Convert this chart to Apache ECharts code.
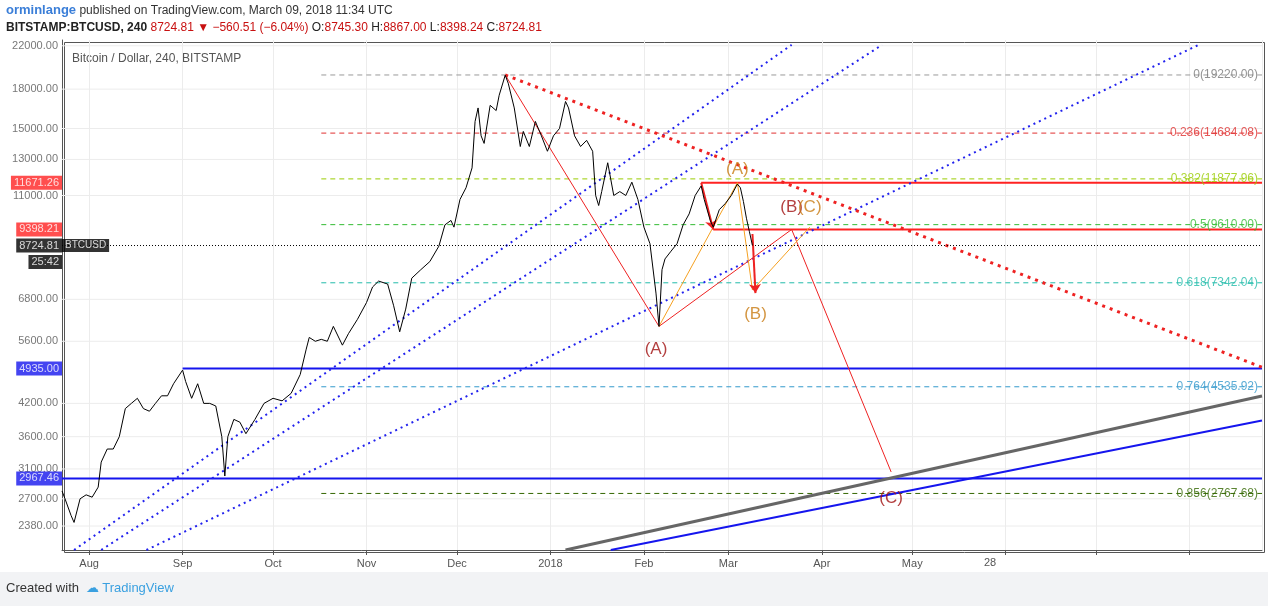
<!DOCTYPE html>
<html><head><meta charset="utf-8">
<script src="https://cdn.jsdelivr.net/npm/echarts@6/dist/echarts.min.js"></script>
<style>html,body{margin:0;padding:0;background:#fff}#c{width:1268px;height:606px}</style>
</head><body><div id="c"></div>
<script>
const priceDates = ['2017-07-23','2017-07-24','2017-07-26','2017-07-27','2017-07-29','2017-07-31','2017-08-02','2017-08-04','2017-08-05','2017-08-07','2017-08-09','2017-08-11','2017-08-13','2017-08-15','2017-08-17','2017-08-19','2017-08-21','2017-08-23','2017-08-25','2017-08-27','2017-08-29','2017-09-01','2017-09-02','2017-09-04','2017-09-06','2017-09-08','2017-09-10','2017-09-12','2017-09-14','2017-09-15','2017-09-16','2017-09-18','2017-09-20','2017-09-22','2017-09-25','2017-09-28','2017-10-01','2017-10-04','2017-10-07','2017-10-10','2017-10-12','2017-10-13','2017-10-15','2017-10-17','2017-10-19','2017-10-21','2017-10-24','2017-10-26','2017-10-29','2017-11-01','2017-11-03','2017-11-05','2017-11-08','2017-11-10','2017-11-12','2017-11-14','2017-11-16','2017-11-19','2017-11-22','2017-11-25','2017-11-27','2017-11-29','2017-11-30','2017-12-02','2017-12-04','2017-12-06','2017-12-07','2017-12-08','2017-12-09','2017-12-10','2017-12-12','2017-12-14','2017-12-15','2017-12-17','2017-12-18','2017-12-20','2017-12-22','2017-12-23','2017-12-25','2017-12-27','2017-12-29','2017-12-31','2018-01-02','2018-01-04','2018-01-06','2018-01-07','2018-01-09','2018-01-11','2018-01-13','2018-01-15','2018-01-16','2018-01-17','2018-01-18','2018-01-20','2018-01-22','2018-01-24','2018-01-26','2018-01-28','2018-01-30','2018-02-01','2018-02-03','2018-02-05','2018-02-06','2018-02-07','2018-02-08','2018-02-10','2018-02-12','2018-02-14','2018-02-16','2018-02-18','2018-02-20','2018-02-21','2018-02-23','2018-02-24','2018-02-26','2018-02-28','2018-03-02','2018-03-04','2018-03-05','2018-03-06','2018-03-07','2018-03-08','2018-03-09'];
const priceValues = [2800,2700,2500,2420,2700,2750,2720,2850,3200,3400,3400,3600,4100,4200,4300,4100,4050,4200,4350,4350,4600,4900,4650,4300,4600,4200,4200,4150,3600,3000,3600,3900,3850,3650,3900,4200,4300,4250,4400,4800,5400,5700,5600,5650,5600,6000,5500,5800,6200,6700,7200,7400,7300,6600,5850,6500,7500,7800,8100,8700,9600,9800,9500,10800,11400,12500,15500,16500,14500,14000,16700,16300,17500,19200,18500,16500,13800,14800,13800,15500,14500,13500,14500,15000,17000,16500,14500,13800,14200,13500,11000,10500,11200,12800,11000,11200,11000,11700,10800,9500,8800,7000,6000,7800,8200,8500,8800,9600,10100,11000,11500,10800,9800,9500,10300,10600,11000,11600,11400,10700,9900,9300,8724.81];
const yTicks = [22000,18000,15000,13000,11000,6800,5600,4200,3600,3100,2700,2380];
const fibValues = [19220,14684.08,11877.96,9610,7342.04,4535.92,2767.68];
const fibLabels = ['0(19220.00)','0.236(14684.08)','0.382(11877.96)','0.5(9610.00)','0.618(7342.04)','0.764(4535.92)','0.856(2767.68)'];
const fibColors = ['#9a9a9a','#e03030','#99cc00','#33bb33','#22bbaa','#3399cc','#336600'];
const badgeValues = [11671.26,9398.21,8724.81,8080,4935,2967.46];
const badgeTexts = ['11671.26','9398.21','8724.81','25:42','4935.00','2967.46'];
const badgeColors = ['#ff2222','#ff2222','#000','#000','#1515ee','#1515ee'];
const blueChannels = [[['2017-07-27',2130],['2018-03-22',22100]],[['2017-08-05',2130],['2018-04-21',22100]],[['2017-08-20',2130],['2018-08-04',22100]]];
const redTrend = [['2017-12-17',19220],['2018-08-25',4965]];
const grayLine = [['2018-01-06',2130],['2018-08-25',4345]];
const blueLine = [['2018-01-21',2130],['2018-08-25',3880]];
const redWave = [['2017-12-17',19220],['2018-02-06',6000],['2018-03-22',9398],['2018-04-24',3057]];
const orangeWave = [['2018-02-06',6000],['2018-03-04',11671],['2018-03-09',7100],['2018-03-28',9500]];
const XMIN='2017-07-23', XMAX='2018-08-25', FIBSTART='2017-10-17';

const chart = echarts.init(document.getElementById('c'));
const font = 'Liberation Sans';
function ln(data,color,width,type,z){return {type:'line',data,symbol:'none',silent:true,lineStyle:{color,width,type},z:z||3};}
const series = [];
series.push({type:'line',data:priceDates.map((d,i)=>[d,priceValues[i]]),symbol:'none',lineStyle:{color:'#000',width:1},z:5});
series.push(ln([[XMIN,8724.81],[XMAX,8724.81]],'#000',1,[1,2],4));
yTicks.forEach(v=>series.push(ln([[XMIN,v],[XMAX,v]],'#ececec',1,'solid',1)));
series.push({type:'scatter',data:yTicks.map(v=>[XMIN,v]),symbolSize:0,silent:true,
  label:{show:true,position:'left',distance:4,formatter:p=>p.value[1].toFixed(2),color:'#555',fontSize:11,fontFamily:font},z:1});
fibValues.forEach((v,i)=>{
  series.push(ln([[FIBSTART,v],[XMAX,v]],fibColors[i],1,[5,4],2));
});
series.push({type:'scatter',symbolSize:0,silent:true,z:6,data:fibValues.map((v,i)=>({value:[XMAX,v],label:{show:true,position:'left',distance:4,formatter:fibLabels[i],color:fibColors[i]==='#9a9a9a'?'#777':fibColors[i],fontSize:12,fontFamily:font}}))});
series.push(ln([['2017-09-01',4935],[XMAX,4935]],'#1515ee',2,'solid'));
series.push(ln([[XMIN,2967.46],[XMAX,2967.46]],'#1515ee',2,'solid'));
series.push(ln([['2018-02-20',11671.26],[XMAX,11671.26]],'#ff2222',2,'solid'));
series.push(ln([['2018-02-24',9398.21],[XMAX,9398.21]],'#ff2222',2,'solid'));
blueChannels.forEach(c=>series.push(ln(c,'#2222ee',2,[2,4])));
series.push(ln(redTrend,'#ee2222',3,[3,5]));
series.push(ln(grayLine,'#666',3,'solid'));
series.push(ln(blueLine,'#1515ee',2,'solid'));
series.push(ln(redWave,'#ee2222',1,'solid'));
series.push(ln(orangeWave,'#f5a020',1,'solid'));
series.push({type:'line',data:[],markLine:{symbol:['none','arrow'],symbolSize:9,silent:true,label:{show:false},lineStyle:{color:'#ee2222',width:2,type:'solid'},
  data:[[{coord:['2018-02-20',11671]},{coord:['2018-02-24',9398]}],[{coord:['2018-03-09',9200]},{coord:['2018-03-10',7000]}]]}});
const wl=[['2018-02-05',5400,'(A)','#a01010'],['2018-03-22',10400,'(B)','#a01010'],['2018-04-24',2700,'(C)','#a01010'],['2018-03-04',12400,'(A)','#c87b12'],['2018-03-10',6350,'(B)','#c87b12'],['2018-03-28',10400,'(C)','#c87b12']];
series.push({type:'scatter',symbolSize:0,silent:true,z:6,data:wl.map(w=>({value:[w[0],w[1]],label:{show:true,position:'inside',formatter:w[2],color:w[3],fontSize:17,fontFamily:font}}))});
series.push({type:'scatter',symbolSize:0,silent:true,z:10,data:badgeValues.map((v,i)=>({value:[XMIN,v],label:{show:true,position:'left',distance:0,formatter:badgeTexts[i],color:'#fff',backgroundColor:badgeColors[i],padding:[2,3,1,3],fontSize:11,fontFamily:font}}))});
series.push({type:'scatter',symbolSize:0,silent:true,z:10,data:[{value:[XMIN,8724.81],label:{show:true,position:'right',distance:0,formatter:'BTCUSD',color:'#fff',backgroundColor:'#000',padding:[2,3,1,3],fontSize:10,fontFamily:font}}]});

chart.setOption({
  animation:false,
  grid:{left:62,right:6,top:40,bottom:56},
  xAxis:{type:'time',min:XMIN,max:XMAX,splitNumber:13,minInterval:28*86400000,axisLine:{lineStyle:{color:'#555'}},axisTick:{show:true,lineStyle:{color:'#555'}},
    splitLine:{show:true,lineStyle:{color:'#ececec'}},axisLabel:{color:'#555',fontSize:11,fontFamily:font,
      formatter:function(val){const d=new Date(val);if(d>new Date('2018-05-15'))return '';const m=d.getMonth();return m===0?String(d.getFullYear()):['Jan','Feb','Mar','Apr','May','Jun','Jul','Aug','Sep','Oct','Nov','Dec'][m];}}},
  yAxis:{type:'log',min:2130,max:22600,axisLabel:{show:false},axisTick:{show:false},splitLine:{show:false},axisLine:{show:true,lineStyle:{color:'#555'}}},
  graphic:[
    {type:'rect',left:62,top:40,shape:{width:1200,height:510},style:{fill:'none',stroke:'#555',lineWidth:1},silent:true},
    {type:'text',left:6,top:4,style:{text:'{a|orminlange} {b|published on TradingView.com, March 09, 2018 11:34 UTC}',rich:{a:{fill:'#3a7ed8',fontWeight:'bold',fontSize:13,fontFamily:font},b:{fill:'#333',fontSize:12,fontFamily:font}}}},
    {type:'text',left:6,top:22,style:{text:'{a|BITSTAMP:BTCUSD, 240} {r|8724.81 ▼ −560.51 (−6.04%)} {l|O:}{r|8745.30} {l|H:}{r|8867.00} {l|L:}{r|8398.24} {l|C:}{r|8724.81}',rich:{a:{fill:'#222',fontWeight:'bold',fontSize:12,fontFamily:font},r:{fill:'#c81010',fontSize:12,fontFamily:font},l:{fill:'#222',fontSize:12,fontFamily:font}}}},
    {type:'text',left:72,top:53,style:{text:'Bitcoin / Dollar, 240, BITSTAMP',fill:'#555',fontSize:12,fontFamily:font}},
    {type:'text',left:984,top:557,style:{text:'28',fill:'#555',fontSize:11,fontFamily:font}},
    {type:'rect',left:0,top:572,shape:{width:1268,height:34},style:{fill:'#f2f3f5'}},
    {type:'text',left:6,top:582,style:{text:'{a|Created with}  {b|☁ TradingView}',rich:{a:{fill:'#333',fontSize:13,fontFamily:font},b:{fill:'#3aa0e0',fontSize:13,fontFamily:font}}}}
  ],
  series
});
</script></body></html>
